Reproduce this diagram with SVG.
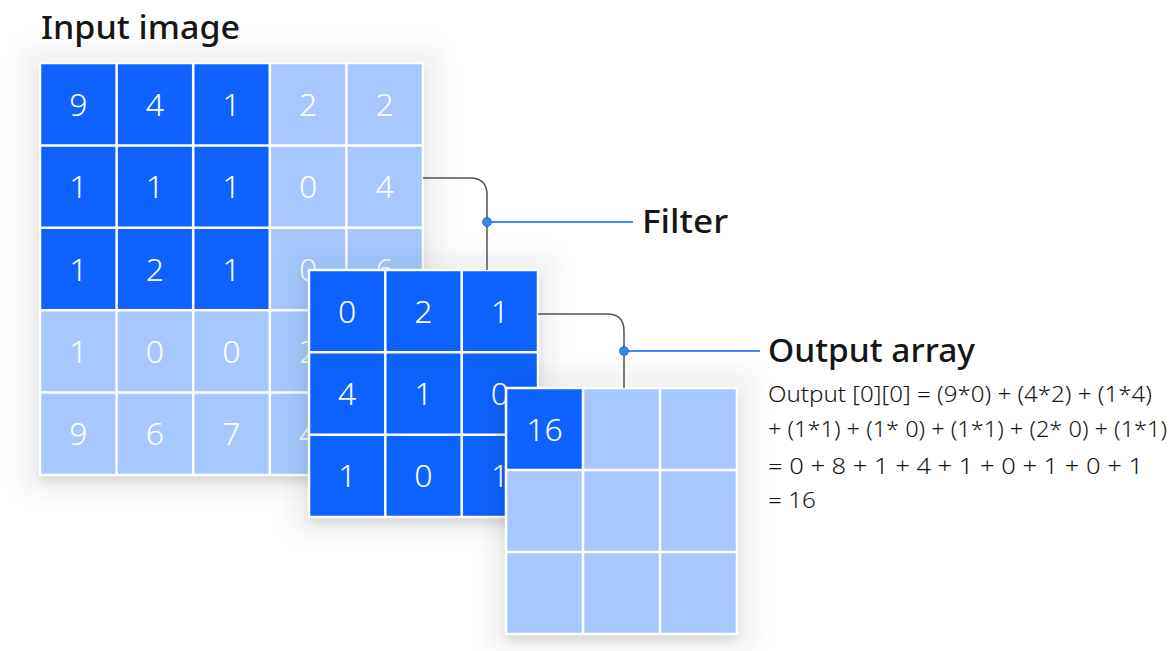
<svg xmlns="http://www.w3.org/2000/svg" width="1170" height="651" viewBox="0 0 1170 651">
<defs>
<filter id="shadow" x="-30%" y="-30%" width="160%" height="160%">
<feMorphology in="SourceAlpha" operator="dilate" radius="18" result="d"/>
<feGaussianBlur in="d" stdDeviation="10" result="db"/>
<feFlood flood-color="#000" flood-opacity="0.05" result="f1"/>
<feComposite in="f1" in2="db" operator="in" result="halo"/>
<feGaussianBlur in="SourceAlpha" stdDeviation="6" result="b2"/>
<feOffset in="b2" dy="6" result="o2"/>
<feFlood flood-color="#000" flood-opacity="0.13" result="f2"/>
<feComposite in="f2" in2="o2" operator="in" result="near"/>
<feMerge><feMergeNode in="halo"/><feMergeNode in="near"/><feMergeNode in="SourceGraphic"/></feMerge>
</filter>
</defs>
<style>
.dark{fill:#0f62fe}
.light{fill:#a6c8ff}
.grid{stroke:#ffffff;stroke-width:2.5;fill:none}
.num{font-family:"Noto Sans","Liberation Sans",sans-serif;font-size:32px;font-weight:300;fill:#ffffff;text-anchor:middle}
.label{font-family:"Noto Sans","Liberation Sans",sans-serif;font-size:32px;font-weight:500;fill:#161616}
.formula{font-family:"Noto Sans","Liberation Sans",sans-serif;font-size:22px;font-weight:300;fill:#161616}
.lead{stroke:#525252;stroke-width:1.5;fill:none}
.blue{stroke:#4589ff;stroke-width:2;fill:none}
.dot{fill:#3d84f5;stroke:#1f5fcf;stroke-width:0.8}
</style>
<rect width="1170" height="651" fill="#ffffff"/>
<text class="label" x="41" y="39" textLength="199" lengthAdjust="spacingAndGlyphs">Input image</text>

<g id="input-image">
<g filter="url(#shadow)">
<rect class="light" x="40" y="63" width="383" height="412"/>
</g>
<rect class="dark" x="40" y="63" width="230" height="247"/>
<path class="grid" d="M40,63H423V475H40Z M116.6,63V475 M193.2,63V475 M269.8,63V475 M346.4,63V475 M40,145.4H423 M40,227.8H423 M40,310.2H423 M40,392.6H423"/>
<text class="num" x="78.3" y="115.5">9</text>
<text class="num" x="154.9" y="115.5">4</text>
<text class="num" x="231.5" y="115.5">1</text>
<text class="num" x="308.1" y="115.5">2</text>
<text class="num" x="384.7" y="115.5">2</text>
<text class="num" x="78.3" y="198">1</text>
<text class="num" x="154.9" y="198">1</text>
<text class="num" x="231.5" y="198">1</text>
<text class="num" x="308.1" y="198">0</text>
<text class="num" x="384.7" y="198">4</text>
<text class="num" x="78.3" y="280.5">1</text>
<text class="num" x="154.9" y="280.5">2</text>
<text class="num" x="231.5" y="280.5">1</text>
<text class="num" x="308.1" y="280.5">0</text>
<text class="num" x="384.7" y="280.5">6</text>
<text class="num" x="78.3" y="363">1</text>
<text class="num" x="154.9" y="363">0</text>
<text class="num" x="231.5" y="363">0</text>
<text class="num" x="308.1" y="363">2</text>
<text class="num" x="78.3" y="445">9</text>
<text class="num" x="154.9" y="445">6</text>
<text class="num" x="231.5" y="445">7</text>
<text class="num" x="308.1" y="445">4</text>
</g>

<g id="filter">
<g filter="url(#shadow)">
<rect class="dark" x="309" y="270" width="229" height="247"/>
</g>
<path class="grid" d="M309,270H538V517H309Z M385.3,270V517 M461.7,270V517 M309,352.3H538 M309,434.7H538"/>
<text class="num" x="347.2" y="322.5">0</text>
<text class="num" x="423.5" y="322.5">2</text>
<text class="num" x="499.8" y="322.5">1</text>
<text class="num" x="347.2" y="405">4</text>
<text class="num" x="423.5" y="405">1</text>
<text class="num" x="499.8" y="405">0</text>
<text class="num" x="347.2" y="487">1</text>
<text class="num" x="423.5" y="487">0</text>
<text class="num" x="499.8" y="487">1</text>
</g>

<g id="output-array">
<g filter="url(#shadow)">
<rect class="light" x="506" y="388" width="231" height="246"/>
</g>
<rect class="dark" x="506" y="388" width="77" height="82"/>
<path class="grid" d="M506,388H737V634H506Z M583,388V634 M660,388V634 M506,470H737 M506,552H737"/>
<text class="num" x="544.5" y="441">16</text>
</g>

<g id="connectors">
<path class="lead" d="M423,178H470Q487,178 487,195V270"/>
<line class="blue" x1="487" y1="222" x2="633" y2="222"/>
<circle class="dot" cx="487" cy="222" r="4.5"/>
<path class="lead" d="M538,314H607Q624,314 624,331V388"/>
<line class="blue" x1="624" y1="351" x2="760" y2="351"/>
<circle class="dot" cx="624" cy="351" r="4.5"/>
</g>

<g id="labels">
<text class="label" x="642" y="233" textLength="86" lengthAdjust="spacingAndGlyphs">Filter</text>
<text class="label" x="768" y="362" textLength="207" lengthAdjust="spacingAndGlyphs">Output array</text>
<text class="formula" x="768" y="402" textLength="384" lengthAdjust="spacingAndGlyphs">Output [0][0] = (9*0) + (4*2) + (1*4)</text>
<text class="formula" x="768" y="437" textLength="399" lengthAdjust="spacingAndGlyphs">+ (1*1) + (1* 0) + (1*1) + (2* 0) + (1*1)</text>
<text class="formula" x="768" y="474" textLength="375" lengthAdjust="spacingAndGlyphs">= 0 + 8 + 1 + 4 + 1 + 0 + 1 + 0 + 1</text>
<text class="formula" x="768" y="508" textLength="48" lengthAdjust="spacingAndGlyphs">= 16</text>
</g>
</svg>
